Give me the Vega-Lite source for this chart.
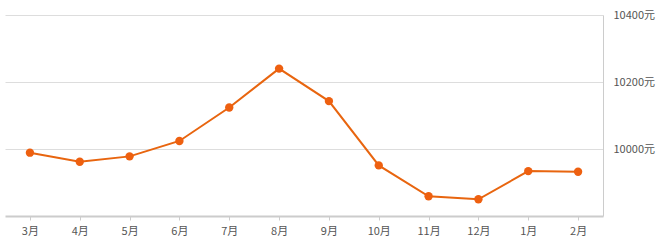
{
  "$schema": "https://vega.github.io/schema/vega-lite/v6.json",
  "autosize": "none",
  "width": 598,
  "height": 201,
  "padding": {"left": 5, "top": 15, "right": 65, "bottom": 32},
  "background": "white",
  "config": {
    "view": {"stroke": null},
    "axis": {"labelFont": "Noto Sans CJK SC", "labelFontSize": 11, "labelColor": "#555555"}
  },
  "data": {
    "values": [
      {"month": "3月", "price": 9989},
      {"month": "4月", "price": 9962},
      {"month": "5月", "price": 9978},
      {"month": "6月", "price": 10024},
      {"month": "7月", "price": 10124},
      {"month": "8月", "price": 10240},
      {"month": "9月", "price": 10143},
      {"month": "10月", "price": 9951},
      {"month": "11月", "price": 9859},
      {"month": "12月", "price": 9850},
      {"month": "1月", "price": 9934},
      {"month": "2月", "price": 9932}
    ]
  },
  "encoding": {
    "x": {
      "field": "month", "type": "ordinal", "sort": null,
      "scale": {"type": "point", "padding": 0.5},
      "axis": {"title": null, "labelAngle": 0, "domainColor": "#cccccc", "domainWidth": 2, "tickColor": "#cccccc", "tickSize": 4, "labelPadding": 5, "grid": false}
    },
    "y": {
      "field": "price", "type": "quantitative",
      "scale": {"domain": [9800, 10400], "nice": false, "zero": false},
      "axis": {"title": null, "orient": "right", "values": [10000, 10200, 10400], "format": "d", "labelExpr": "datum.label + '元'", "ticks": false, "domain": true, "domainColor": "#cccccc", "gridColor": "#dddddd", "grid": true, "labelPadding": 10}
    }
  },
  "layer": [
    {"mark": {"type": "line", "color": "#e8650f", "strokeWidth": 2}},
    {"mark": {"type": "point", "filled": true, "color": "#ee6010", "size": 70, "opacity": 1}}
  ]
}
